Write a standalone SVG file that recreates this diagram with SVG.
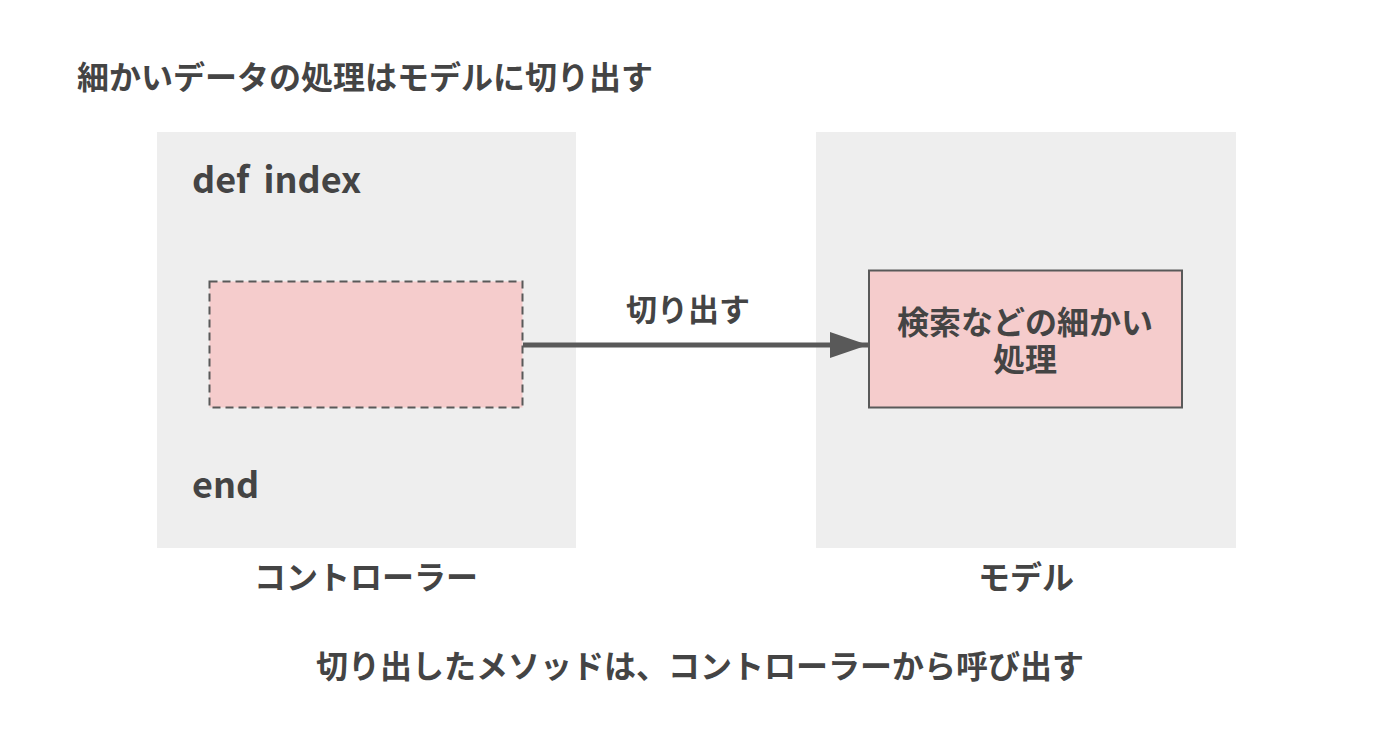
<svg xmlns="http://www.w3.org/2000/svg" width="1400" height="731" viewBox="0 0 1400 731">
<defs>
<style>
.t{font-family:"Noto Sans CJK JP","Noto Sans",sans-serif;font-weight:bold;fill:#444444;}
.panel{fill:#eeeeee;}
.pink{fill:#f5cccc;stroke:#595959;stroke-width:2;}
</style>
<marker id="arr" viewBox="0 0 10 10" refX="10" refY="5" markerWidth="7.6" markerHeight="5.2" markerUnits="strokeWidth" orient="auto" preserveAspectRatio="none">
<path d="M0,0 L10,5 L0,10 Z" fill="#595959"/>
</marker>
</defs>
<rect width="1400" height="731" fill="#ffffff"/>
<text class="t" x="77" y="89" font-size="32">細かいデータの処理はモデルに切り出す</text>
<g id="controller">
<rect class="panel" x="157" y="132" width="419" height="416"/>
<text class="t" x="192" y="193" font-size="36" word-spacing="6">def index</text>
<text class="t" x="192" y="498" font-size="36">end</text>
<text class="t" x="366" y="589" font-size="32" text-anchor="middle">コントローラー</text>
</g>
<g id="model">
<rect class="panel" x="816" y="132" width="420" height="416"/>
<text class="t" x="1026" y="589" font-size="32" text-anchor="middle">モデル</text>
</g>
<g id="extract">
<rect class="pink" x="209.5" y="281.5" width="313" height="126" stroke-dasharray="8,5"/>
</g>
<g id="process">
<rect class="pink" x="869" y="270.5" width="313" height="137"/>
<text class="t" font-size="32" text-anchor="middle"><tspan x="1025" y="334">検索などの細かい</tspan><tspan x="1025" y="371">処理</tspan></text>
</g>
<g id="connectors">
<line x1="523" y1="345" x2="868" y2="345" stroke="#595959" stroke-width="5" marker-end="url(#arr)"/>
<text class="t" x="688" y="321" font-size="31" text-anchor="middle">切り出す</text>
</g>
<text class="t" x="700" y="678" font-size="32" text-anchor="middle">切り出したメソッドは、コントローラーから呼び出す</text>
</svg>
